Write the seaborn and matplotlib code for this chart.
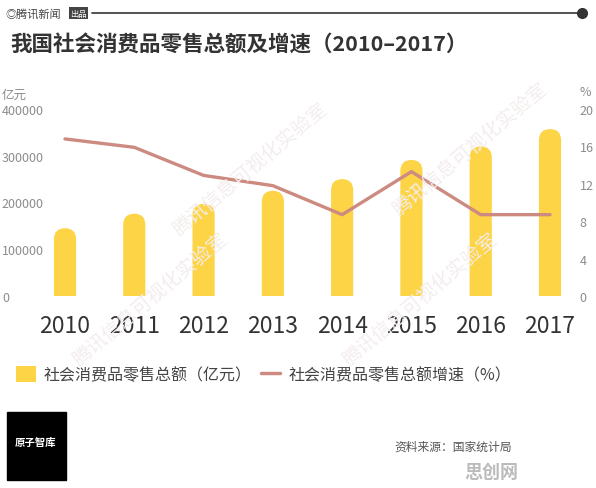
import matplotlib
matplotlib.use("Agg")
import matplotlib.pyplot as plt
import seaborn as sns
import pandas as pd
from matplotlib.patches import FancyBboxPatch, Patch, Rectangle
from matplotlib.lines import Line2D

# values
years = ["2010", "2011", "2012", "2013", "2014", "2015", "2016", "2017"]
sales = [145000, 176000, 197000, 225000, 250000, 291000, 320000, 357000]   # 亿元
growth = [16.8, 15.9, 12.9, 11.8, 8.7, 13.3, 8.7, 8.7]                      # %
left_ticks = [0, 100000, 200000, 300000, 400000]
right_ticks = [0, 4, 8, 12, 16, 20]
title = "我国社会消费品零售总额及增速（2010–2017）"
legend_labels = ["社会消费品零售总额（亿元）", "社会消费品零售总额增速（%）"]

BAR = "#FDD446"
LINE = "#CC8A80"
GREY = "#8C8C8C"

sns.set_theme(style="white")
plt.rcParams['font.family'] = ['Noto Sans CJK SC', 'DejaVu Sans']

W, H = 596, 489
fig = plt.figure(figsize=(W / 100, H / 100), dpi=100)
fig.patch.set_facecolor("white")
ax = fig.add_axes([45 / W, 1 - 297 / H, 530 / W, 187 / H])

df = pd.DataFrame({"year": years, "sales": sales, "growth": growth})
sns.barplot(data=df, x="year", y="sales", color=BAR, saturation=1,
            width=0.32, ax=ax)
ax2 = ax.twinx()
sns.pointplot(data=df, x="year", y="growth", color=LINE, markers="",
              linestyles="-", linewidth=2.4, ax=ax2)

ax.set_xlim(-20 / 69.3, 7 + 25 / 69.3)
ax.set_ylim(0, 400000)
ax2.set_ylim(0, 20)

# swap the seaborn bars for rounded ones (bottom corners clipped away)
ax_h_px = 187.0
x_px = 69.3
for p in list(ax.patches):
    x, w, h = p.get_x(), p.get_width(), p.get_height()
    rx = w / 2
    ry = rx * x_px * 400000 / ax_h_px
    cap = FancyBboxPatch((x, -ry), w, h + ry,
                         boxstyle=f"round,pad=0,rounding_size={rx}",
                         mutation_aspect=ry / rx, fc=BAR, ec="none")
    ax.add_patch(cap)
    p.remove()

for a in (ax, ax2):
    for s in a.spines.values():
        s.set_visible(False)
    a.set_xlabel("")
    a.set_ylabel("")

ax.set_yticks(left_ticks)
ax.set_yticklabels([str(v) for v in left_ticks])
ax.tick_params(axis="y", length=0, pad=31, labelsize=9, labelcolor=GREY)
for lab in ax.get_yticklabels():
    lab.set_ha("left")
ax2.set_yticks(right_ticks)
ax2.set_yticklabels([str(v) for v in right_ticks])
ax2.tick_params(axis="y", length=0, pad=3.5, labelsize=9, labelcolor=GREY)
ax.tick_params(axis="x", length=0, pad=13, labelsize=16.5, labelcolor="#333333")
ax2.tick_params(axis="x", length=0)

fig.text(2 / W, 1 - 95 / H, "亿元", fontsize=9, color=GREY, va="center")
fig.text(580 / W, 1 - 93 / H, "%", fontsize=9, color=GREY, va="center")

# header
fig.text(5 / W, 1 - 14 / H, "◎腾讯新闻", fontsize=8, color="#444444",
         va="center", style="italic")
fig.text(70 / W, 1 - 14 / H, "出品", fontsize=6, color="white", va="center",
         bbox=dict(boxstyle="square,pad=0.15", fc="#444444", ec="none"))
fig.add_artist(Line2D([92 / W, 582 / W], [1 - 14 / H, 1 - 14 / H],
                      transform=fig.transFigure, color="#444444", lw=1.3))
fig.add_artist(Line2D([582 / W], [1 - 14 / H], transform=fig.transFigure,
                      marker="o", ms=7, color="#333333"))
fig.text(10 / W, 1 - 45 / H, title, fontsize=15.5, weight=900,
         color="#333333", va="center")

# faint watermarks
for (wx, wy) in [(150, 300), (420, 300), (250, 170), (470, 150)]:
    fig.text(wx / W, 1 - wy / H, "腾讯信息可视化实验室", fontsize=14,
             color="#f4eded", rotation=40, ha="center", va="center", zorder=0)

handles = [Patch(fc=BAR, ec="none"), Line2D([], [], color=LINE, lw=2.5)]
fig.legend(handles, legend_labels, loc="center left",
           bbox_to_anchor=(2 / W, 1 - 376 / H), ncol=2, frameon=False,
           fontsize=11.5, handlelength=1.2, handleheight=1.1,
           handletextpad=0.5, columnspacing=0.6, labelcolor="#444444")

# bottom logo and source
fig.add_artist(Rectangle((7 / W, 1 - 481 / H), 59 / W, 68 / H,
                         transform=fig.transFigure, color="black"))
fig.text(36 / W, 1 - 443 / H, "原子智库", fontsize=7.5, weight="bold",
         color="white", ha="center", va="center")
fig.text(512 / W, 1 - 447 / H, "资料来源：国家统计局", fontsize=8.5,
         color="#555555", ha="right", va="center")
fig.text(518 / W, 1 - 472 / H, "思创网", fontsize=13, weight="bold",
         color="#bbbbbb", ha="right", va="center")

fig.savefig("out.png", dpi=100)
